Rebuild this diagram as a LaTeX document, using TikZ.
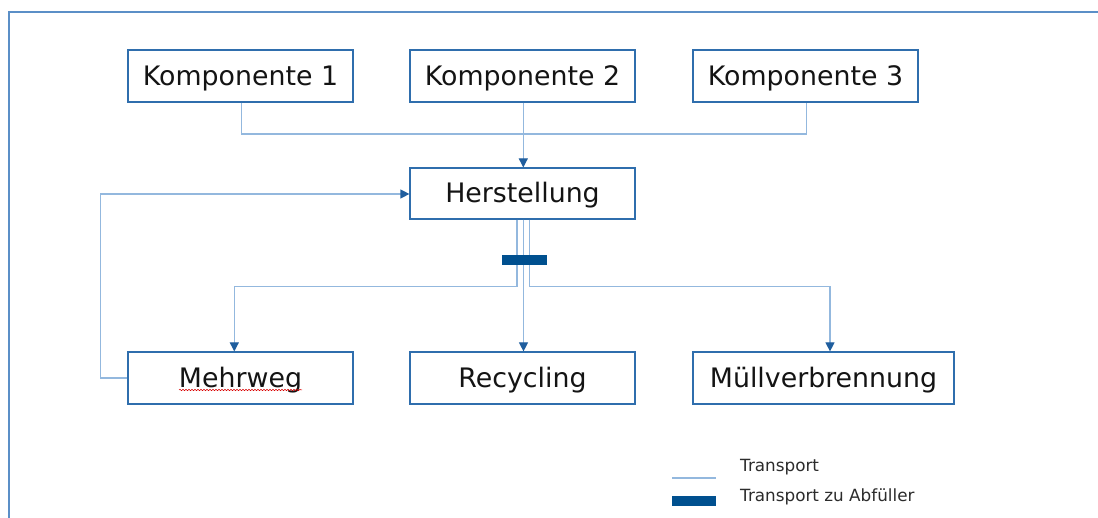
\documentclass[tikz,border=0pt]{standalone}
\usepackage{fontspec}
\setmainfont{DejaVu Sans}
\usetikzlibrary{arrows.meta,decorations.pathmorphing}
\definecolor{boxblue}{HTML}{2F6EAD}
\definecolor{linkblue}{HTML}{93B8DE}
\definecolor{arrowblue}{HTML}{1F5E9E}
\definecolor{barblue}{HTML}{00508F}
\definecolor{frameblue}{HTML}{5B8FC7}
\definecolor{txt}{HTML}{141414}
\tikzset{
  box/.style={draw=boxblue, line width=1.2pt, fill=white, minimum height=52pt,
    inner sep=0pt, text=txt, text height=24pt, text depth=5pt,
    font=\fontsize{26.8}{30}\selectfont},
  conn/.style={draw=linkblue, line width=1.2pt},
  arr/.style={-{Triangle[width=9pt,length=9pt,color=arrowblue,fill=arrowblue]}},
  barbox/.style={fill=barblue, draw=none, minimum width=44pt, minimum height=10pt, inner sep=0pt},
  legtext/.style={anchor=west, text=txt!90, inner sep=0pt, font=\fontsize{16.8}{20}\selectfont},
}
\begin{document}
\begin{tikzpicture}[x=1pt,y=-1pt]
\useasboundingbox (0,0) rectangle (1098,518);
\fill[white] (0,0) rectangle (1098,518);
% frame
\draw[frameblue, line width=1.8pt] (9,518) -- (9,12) -- (1098,12);

% nodes
\node[box, minimum width=225pt] (k1) at (240.5,76) {Komponente 1};
\node[box, minimum width=225pt] (k2) at (522.5,76) {Komponente 2};
\node[box, minimum width=225pt] (k3) at (805.5,76) {Komponente 3};
\node[box, minimum width=225pt, minimum height=51pt] (h) at (522.5,193.5) {Herstellung};
\node[box, minimum width=225pt] (m) at (240.5,378) {Mehrweg};
\node[box, minimum width=225pt] (r) at (522.5,378) {Recycling};
\node[box, minimum width=261pt] (mv) at (823.5,378) {Müllverbrennung};

% spell-check underline
\coordinate (ul1) at (179,390);
\coordinate (ul2) at (302,390);
\draw[red!85!black, line width=0.5pt, decorate,
  decoration={snake, amplitude=0.7pt, segment length=3pt}] (ul1) -- (ul2);

% components to Herstellung
\coordinate (bus) at (522.5,134);
\draw[conn] ([xshift=0.7pt]k1.south) |- (bus) -| ([xshift=0.7pt]k3.south);
\draw[conn, arr] ([xshift=0.8pt]k2.south) -- ([xshift=0.8pt]h.north);

% feedback Mehrweg -> Herstellung
\draw[conn, arr] (m.west) -- ++(-27,0) |- ([yshift=-0.5pt]h.west);

% Herstellung to outputs
\draw[conn, arr] ([xshift=-5.5pt]h.south) -- ++(0,67) -| ([xshift=-6.2pt]m.north);
\draw[conn, arr] ([xshift=1pt]h.south) -- ([xshift=1pt]r.north);
\draw[conn, arr] ([xshift=7pt]h.south) -- ++(0,67) -| ([xshift=6.5pt]mv.north);

% transport bar
\node[barbox, minimum width=45pt] (bar) at (524.5,260.5) {};

% legend
\coordinate (lg1) at (672,478);
\coordinate (lg2) at (716,478);
\draw[conn] (lg1) -- (lg2);
\node[barbox] (lgbar) at (694,501) {};
\node[legtext] (lt1) at (740,467) {Transport};
\node[legtext] (lt2) at (740,497) {Transport zu Abfüller};
\end{tikzpicture}
\end{document}
